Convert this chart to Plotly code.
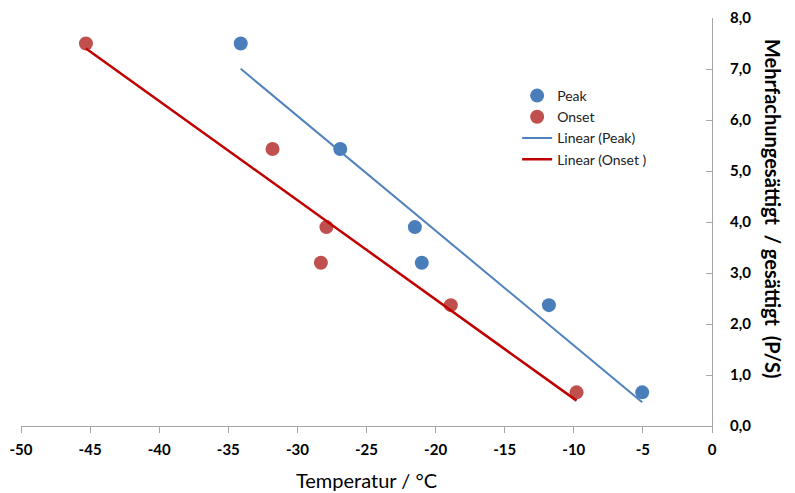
import numpy as np
import plotly.graph_objects as go

peak_x = [-34.1, -26.9, -21.5, -21.0, -11.8, -5.05]
peak_y = [7.5, 5.43, 3.9, 3.2, 2.37, 0.66]
onset_x = [-45.3, -31.8, -27.9, -28.3, -18.9, -9.8]
onset_y = [7.5, 5.43, 3.9, 3.2, 2.37, 0.66]

x_ticks = list(range(-50, 1, 5))
x_ticklabels = [str(v) for v in x_ticks]
y_ticks = [0, 1, 2, 3, 4, 5, 6, 7, 8]

FONT = "Lato, Arial"


def fit_line(xs, ys):
    k, d = np.polyfit(xs, ys, 1)
    xr = np.array([min(xs), max(xs)])
    return xr, k * xr + d


px_l, py_l = fit_line(peak_x, peak_y)
ox_l, oy_l = fit_line(onset_x, onset_y)

fig = go.Figure()
fig.add_trace(go.Scatter(x=peak_x, y=peak_y, mode="markers", name="Peak",
                         marker=dict(color="#4a7ebb", size=14)))
fig.add_trace(go.Scatter(x=onset_x, y=onset_y, mode="markers", name="Onset",
                         marker=dict(color="#c0504d", size=14)))
fig.add_trace(go.Scatter(x=px_l, y=py_l, mode="lines", name="Linear (Peak)",
                         line=dict(color="#4f81bd", width=2)))
fig.add_trace(go.Scatter(x=ox_l, y=oy_l, mode="lines", name="Linear (Onset )",
                         line=dict(color="#c00000", width=2.5)))

fig.update_layout(
    width=795, height=493,
    margin=dict(l=21, r=83, t=18, b=67),
    plot_bgcolor="white", paper_bgcolor="white",
    separators=",.",
    font=dict(family=FONT, color="black"),
    legend=dict(x=0.718, y=0.848, xanchor="left", yanchor="top",
                font=dict(size=14, family=FONT, color="#222"),
                bgcolor="rgba(0,0,0,0)", tracegroupgap=0, itemwidth=30),
    xaxis=dict(range=[-50, 0], tickvals=x_ticks, ticktext=x_ticklabels,
               showgrid=False, zeroline=False, automargin=False,
               showline=True, linecolor="#a6a6a6", linewidth=1,
               ticks="outside", ticklen=6, tickcolor="#a6a6a6", ticklabelstandoff=4,
               tickfont=dict(size=15, family=FONT, color="black", weight="bold"),
               title=dict(text="Temperatur / °C", font=dict(size=20, family=FONT, color="black"),
                          standoff=16)),
    yaxis=dict(range=[0, 8], tickvals=y_ticks, tickformat=".1f", side="right",
               showgrid=False, zeroline=False, automargin=False,
               showline=True, linecolor="#a6a6a6", linewidth=1,
               ticks="inside", ticklen=6, tickcolor="#a6a6a6", ticklabelstandoff=14,
               tickfont=dict(size=15, family=FONT, color="black", weight="bold")),
)

fig.add_annotation(text="Mehrfachungesättigt  / gesättigt  (P/S)",
                   xref="paper", yref="paper", x=1.0, y=0.5, xshift=75, yshift=14,
                   textangle=90, showarrow=False,
                   font=dict(size=20, family=FONT, color="black", weight="bold"))

fig.write_html("out.html")
